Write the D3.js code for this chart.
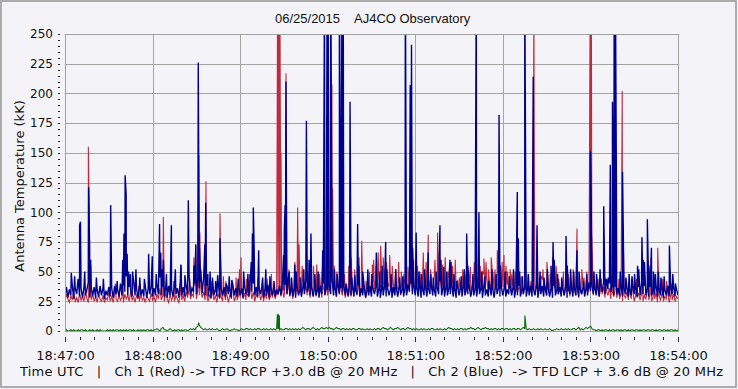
<!DOCTYPE html>
<html>
<head>
<meta charset="utf-8">
<script src="https://cdn.jsdelivr.net/npm/d3@7"></script>
<style>
html,body{margin:0;padding:0;background:#f4f4f8;}
svg{display:block;}
</style>
</head>
<body>
<svg id="chart" width="738" height="389"></svg>
<script>
// ---------------- DATA ----------------
const titleDate = "06/25/2015";
const titleName = "AJ4CO Observatory";
const yAxisTitle = "Antenna Temperature (kK)";
const footerText = "Time UTC   |   Ch 1 (Red) -> TFD RCP +3.0 dB @ 20 MHz   |   Ch 2 (Blue)  -> TFD LCP + 3.6 dB @ 20 MHz";
const xTickSeconds = [0, 60, 120, 180, 240, 300, 360, 420];
const xTickLabels = ["18:47:00", "18:48:00", "18:49:00", "18:50:00", "18:51:00", "18:52:00", "18:53:00", "18:54:00"];
const yTicks = [0, 25, 50, 75, 100, 125, 150, 175, 200, 225, 250];

// Ch 2 (Blue) background level, one value per second from 18:47:00
const blueBase = [
29,37,28,35,30,38,27,36,31,44,29,36,28,37,30,35,41,28,36,30,
37,28,35,29,38,30,36,27,34,30,37,29,36,28,38,31,35,29,40,30,
38,33,46,30,37,34,29,42,30,36,28,37,30,35,29,38,28,36,31,37,
29,36,30,39,31,45,30,37,29,36,28,38,30,35,29,37,31,36,28,42,
30,37,29,38,31,47,30,36,33,40,31,43,36,41,32,45,30,38,29,36,
28,37,30,35,29,41,28,36,30,37,29,38,31,35,28,39,30,36,29,37,
30,36,28,38,31,35,29,44,33,40,30,37,29,36,31,38,28,35,30,39,
28,36,30,37,29,35,31,38,30,42,34,39,31,45,30,37,29,36,28,38,
30,35,29,37,31,43,33,38,30,36,29,37,30,35,28,38,31,40,30,36,
34,38,31,44,30,37,29,39,31,36,33,38,30,36,29,41,30,37,29,35,
31,38,29,36,30,37,28,35,30,38,29,36,31,37,29,35,28,36,30,38,
29,36,30,35,28,37,30,36,29,38,31,35,29,37,30,39,33,40,31,37,
30,36,29,38,28,35,30,37,29,36,31,38,30,35,29,37,31,42,30,36,
29,37,30,36,31,38,29,35,28,37,30,36,29,38,30,35,31,37,29,36,
30,35,29,37,31,36,28,38,30,35,29,37,30,36,28,38,31,36,29,37,
30,36,29,35,31,38,30,37,28,36,30,38,29,35,31,37,29,36,30,38,
29,35,30,37,28,36,31,38,29,35,30,37,29,36,28,38,30,35,31,37,
29,36,30,38,28,35,31,37,29,36,30,38,29,35,31,37,29,36,30,41,
34,38,31,36,30,37,29,39,33,41,31,44,35,40,33,38,30,37,31,36,
30,38,29,36,31,37,29,35,30,38,31,36,29,37,30,40,31,38,30,36,
29,37,30,35,31,38,29,36,30,37,28,35,30,38,29,36,31,37,29,35,
30
];

// Ch 1 (Red) background level, one value per second from 18:47:00
const redBase = [
25,31,27,24,30,26,32,25,28,24,31,26,29,25,33,27,24,30,26,31,
25,29,24,31,27,25,30,24,28,26,32,25,29,24,31,27,25,30,26,28,
24,31,27,30,25,33,26,29,24,30,27,25,31,26,28,24,30,27,25,32,
26,29,24,31,27,36,26,30,25,32,27,24,31,26,29,25,30,27,24,31,
26,30,25,33,28,36,27,31,29,38,27,34,30,36,28,33,26,31,25,30,
27,33,26,30,24,31,27,29,25,32,26,30,24,31,27,35,25,29,26,31,
28,35,27,32,26,30,29,36,27,33,25,31,28,34,26,30,25,32,27,33,
26,31,28,34,27,32,30,37,29,35,28,40,31,36,29,34,27,33,30,38,
31,36,29,42,33,38,30,35,28,37,32,39,29,34,31,38,28,36,33,40,
30,37,34,41,31,36,29,38,32,35,30,39,28,36,31,34,29,37,33,38,
30,36,29,34,31,38,28,35,32,37,30,41,35,44,38,47,36,42,39,45,
34,41,37,44,33,39,31,38,35,42,30,37,34,40,31,38,36,43,33,39,
35,40,32,38,36,45,34,39,31,43,37,41,33,46,35,40,38,44,34,39,
36,42,33,45,37,40,32,38,35,43,31,37,34,41,32,39,36,44,33,38,
35,41,32,46,36,42,34,48,37,43,33,40,36,47,34,41,38,45,35,40,
37,44,33,39,35,42,31,38,34,40,32,37,35,43,31,38,34,41,32,37,
35,42,33,39,31,38,36,44,33,38,30,42,34,40,32,38,35,41,31,37,
32,38,30,36,33,40,29,35,32,38,30,36,28,35,31,39,30,36,32,37,
33,38,30,36,32,39,29,35,31,37,28,34,30,36,27,33,29,35,28,32,
27,32,25,30,28,33,26,31,27,34,25,30,28,32,26,31,25,30,27,33,
26,31,25,29,27,32,24,30,26,31,25,29,27,32,24,30,26,31,25,29,
27
];

// Difference trace (green), one value per second
const greenBase = [
0,1,0,0,1,0,1,0,0,1,0,1,1,0,1,0,0,1,0,1,
0,0,1,0,1,0,0,0,0,1,0,1,0,1,0,1,1,0,1,0,
1,0,1,0,1,1,0,1,0,0,1,0,1,0,1,0,1,1,0,1,
0,1,1,2,1,0,2,3,1,1,0,1,2,1,0,1,0,1,1,0,
1,0,1,1,0,1,2,1,2,1,3,4,5,3,2,1,2,1,1,2,
1,2,1,1,2,1,0,1,2,1,1,2,1,0,1,1,2,1,1,0,
1,2,1,1,2,2,1,2,1,1,2,1,2,2,1,1,2,1,2,1,
1,2,1,2,1,2,2,1,2,1,1,2,2,1,2,1,2,1,2,1,
2,1,2,3,2,1,2,2,1,2,3,2,1,2,1,2,3,2,2,3,
2,3,2,2,1,2,3,2,2,1,2,2,1,2,1,2,1,2,2,1,
1,2,2,1,2,1,1,2,1,2,1,1,2,1,2,2,1,2,3,2,
2,1,2,3,2,1,2,2,3,2,1,2,2,1,2,3,2,2,1,2,
1,2,1,1,2,1,2,1,1,2,1,2,2,1,1,2,1,2,1,1,
2,1,2,3,2,2,1,2,1,2,1,2,2,1,2,1,2,2,3,2,
2,1,2,3,2,1,2,2,3,2,2,1,2,1,2,2,1,2,1,2,
2,1,2,2,1,2,1,2,2,1,2,2,1,2,3,2,2,1,2,1,
1,2,1,1,2,1,2,1,1,2,1,1,2,1,0,1,1,2,1,1,
2,1,1,2,1,2,1,1,2,2,1,2,3,1,2,1,2,3,2,3,
4,2,1,1,0,1,1,0,1,0,1,1,0,1,0,1,1,0,1,1,
0,1,0,1,1,0,1,0,1,1,0,1,1,0,1,0,1,1,0,1,
1,0,1,1,0,1,0,1,1,0,1,1,0,1,0,1,1,0,1,0,
1
];

// Bursts: [seconds after 18:47:00, kK]
const blueBursts = [
[4.3,49],[6.6,46],[10.0,89],[10.6,92],[13.5,50],[16.2,121],[16.8,72],[17.6,60],[21.5,45],[26.3,44],
[31.3,106],[35.8,42],[39.6,60],[40.4,82],[41.2,131],[41.9,115],[42.6,65],[43.5,50],
[44.8,48],[46.3,50],[48.6,52],[51.2,45],[54.4,44],[57.3,65],[59.8,63],[62.5,48],[64.8,90],[65.6,66],
[66.4,52],[67.4,60],[69.5,48],[72.9,89],[75.6,52],[79.4,56],[82.1,47],[84.5,110],[88.3,55],[89.6,73],[91.3,226],
[92.1,70],[93.0,52],[95.8,73],[96.4,108],[97.9,48],[99.4,50],[101.0,45],[103.2,42],[104.6,47],
[106.2,78],[110.4,40],[112.5,46],[114.3,43],[118.7,44],[122.4,50],[125.3,48],[127.6,58],[128.4,82],[129.0,104],[129.6,70],
[132.7,68],[135.4,45],[137.6,52],[140.4,46],[143.2,42],[149.8,64],[150.3,87],[150.8,106],[151.4,210],
[153.6,50],[155.2,45],[157.4,56],[158.5,50],[161.3,45],[163.6,52],[165.4,177],[167.2,60],[168.5,82],[171.2,48],[173.5,50],[176.6,68],
[177.8,300],[179.6,300],[179.9,120],[180.2,300],[182.0,300],[184.6,52],[186.5,48],[188.0,300],
[189.8,300],[190.2,120],[190.6,300],[192.5,40],[195.3,193],[196.5,45],[198.6,47],[200.5,90],
[201.3,55],[204.0,50],[207.5,52],[210.3,48],[213.3,66],[215.6,50],[217.4,55],[219.7,75],[220.5,52],[223.5,48],[226.6,52],[229.2,45],[231.5,46],[233.2,300],
[236.5,207],[237.4,241],[238.2,70],[240.6,83],[242.5,50],[244.2,48],[246.3,52],[248.9,66],[250.6,48],[252.3,45],[254.4,50],
[256.9,89],[257.6,60],[259.5,54],[261.6,50],[263.8,60],[264.5,58],[266.4,48],[268.2,42],[271.5,46],[273.6,52],[275.2,82],[276.0,55],[279.5,48],
[281.8,300],[283.6,100],[285.4,50],[287.6,46],[290.3,42],[292.5,52],[295.4,48],[297.4,182],[298.2,55],[301.6,50],[304.5,46],[307.3,52],[309.9,117],[310.6,78],
[311.5,50],[313.4,46],[315.0,300],[317.5,48],[320.8,214],[323.4,89],[325.5,50],[328.2,45],[330.5,52],[333.0,55],[334.4,75],
[335.2,60],[337.5,48],[340.3,45],[343.3,80],[344.1,55],[346.4,52],[348.5,50],[350.8,68],[352.2,50],[355.3,42],[357.5,48],
[360.0,151],[360.5,113],[362.4,50],[364.2,48],[366.6,52],[369.1,105],[372.2,45],[373.6,140],[375.1,193],
[376.3,300],[376.7,150],[377.1,300],[377.8,125],[380.4,50],[382.0,134],[384.3,45],[386.5,48],[388.5,46],[390.2,48],
[392.3,55],[393.1,52],[395.3,79],[396.2,60],[397.0,58],[399.0,94],[400.0,55],[401.8,70],
[403.2,50],[404.5,48],[406.6,50],[408.3,45],[410.5,46],[414.1,72],[416.4,48],[418.2,40]
];

const redBursts = [
[16.0,155],[16.9,73],[17.6,55],[34.5,40],[39.9,45],[50.5,38],[67.4,96],[74.5,42],[79.7,55],[85.5,44],[88.3,62],[89.6,72],
[91.7,148],[92.4,83],[96.6,126],[100.2,42],[106.2,99],[108.5,46],[110.2,42],[114.1,40],
[117.2,45],[119.5,52],[120.6,62],[124.2,44],[126.4,48],[132.2,45],[135.2,42],[138.5,44],[141.4,48],
[145.7,300],[146.1,90],[146.4,300],[146.8,100],[147.2,300],[147.6,163],[148.0,150],[148.4,50],
[151.4,217],[153.4,52],[155.1,45],[157.5,58],[159.4,104],[160.4,73],[162.5,55],[163.2,50],[166.3,50],[168.5,62],[170.2,55],
[172.5,56],[174.4,48],[176.2,50],[182.0,300],[182.4,207],[182.9,207],[183.4,120],[184.5,55],[186.2,50],[188.6,50],[191.5,48],[194.4,55],[196.0,62],
[198.5,52],[201.5,62],[203.3,76],[206.2,42],[208.5,50],[210.6,56],[211.5,60],[213.0,55],[214.6,66],[216.3,72],[218.0,62],[220.3,58],[222.5,64],[224.2,55],
[226.5,52],[228.6,58],[230.4,50],[232.1,48],[235.0,54],[238.9,60],[241.5,55],[243.1,50],[245.5,66],[247.4,58],[248.9,81],[250.5,52],[253.5,60],[255.3,83],[256.5,68],
[258.6,56],[260.5,62],[262.5,50],[263.5,57],[265.6,55],[267.4,60],[270.2,45],[272.5,52],[274.6,48],[277.8,54],[280.4,58],[284.5,55],[286.0,50],[287.0,61],[288.5,58],
[290.1,52],[292.0,62],[293.2,50],[294.6,52],[296.2,68],[299.5,58],[300.8,64],[302.1,55],
[303.2,50],[305.0,52],[306.1,48],[308.5,50],[312.5,46],[317.4,48],[319.2,42],[321.2,300],[321.6,120],[323.9,50],[326.2,46],[327.5,52],[330.2,58],
[332.4,48],[334.0,62],[336.5,55],[338.2,44],[341.5,50],[344.8,48],[346.1,45],[348.2,52],[350.8,86],[352.5,48],[354.1,52],[355.6,45],[357.5,50],[359.6,217],
[359.9,300],[360.3,120],[360.6,300],[361.0,80],[362.5,46],[365.2,44],[367.5,44],[370.1,45],[374.5,46],[377.5,107],[379.5,44],
[381.8,202],[382.4,90],[386.2,42],[388.2,44],[391.5,44],[395.9,46],[399.5,60],[401.5,62],[403.5,42],[406.1,70],[409.5,44],[412.2,42],[415.5,40]
];

const greenBursts = [
[67.2,3],[91.6,7],[145.5,14],[145.9,2],[146.2,14],[146.6,2],[146.9,13],[315.1,13],[360.2,4]
];

// ---------------- CHART ----------------
const svg = d3.select("#chart");
const W = 738, H = 389;
const M = {left: 65, right: 678, top: 34, bottom: 331};

const x = d3.scaleLinear().domain([0, 420]).range([M.left, M.right]);
const y = d3.scaleLinear().domain([0, 250]).range([M.bottom, M.top]);

svg.append("rect").attr("x", 0).attr("y", 0).attr("width", W).attr("height", H).attr("fill", "#f4f4f8");
svg.append("rect").attr("x", 1).attr("y", 1).attr("width", 735).attr("height", 386)
  .attr("fill", "none").attr("stroke", "#9a9a9a").attr("stroke-width", 1.6);

// Title
svg.append("text").attr("x", 275).attr("y", 22.5).text(titleDate)
  .attr("font-family", "Liberation Sans, Arial, sans-serif").attr("font-size", 13).attr("fill", "#111");
svg.append("text").attr("x", 354).attr("y", 22.5).text(titleName)
  .attr("font-family", "Liberation Sans, Arial, sans-serif").attr("font-size", 13).attr("fill", "#111");

// Grid
const grid = svg.append("g").attr("stroke", "#a4a4a4").attr("stroke-width", 1).attr("shape-rendering", "crispEdges");
grid.selectAll("line.h").data(yTicks).join("line").attr("class", "h")
  .attr("x1", M.left).attr("x2", M.right).attr("y1", d => Math.round(y(d)) + 0.5).attr("y2", d => Math.round(y(d)) + 0.5);
grid.selectAll("line.v").data(xTickSeconds).join("line").attr("class", "v")
  .attr("y1", M.top).attr("y2", M.bottom).attr("x1", d => Math.round(x(d)) + 0.5).attr("x2", d => Math.round(x(d)) + 0.5);

// Clip
svg.append("defs").append("clipPath").attr("id", "plotclip").append("rect")
  .attr("x", M.left).attr("y", M.top).attr("width", M.right - M.left).attr("height", M.bottom - M.top);

function buildSeries(base, bursts) {
  const pts = base.map((v, i) => ({t: i, v: v}));
  bursts.forEach(b => pts.push({t: b[0], v: b[1]}));
  pts.sort((a, b) => a.t - b.t);
  return pts;
}
const line = d3.line().x(d => x(d.t)).y(d => y(d.v));
const plot = svg.append("g").attr("clip-path", "url(#plotclip)");

plot.append("path").datum(buildSeries(redBase, redBursts))
  .attr("d", line).attr("fill", "none").attr("stroke", "#bf2a3e").attr("stroke-width", 1.1);
plot.append("path").datum(buildSeries(blueBase, blueBursts))
  .attr("d", line).attr("fill", "none").attr("stroke", "#00008e").attr("stroke-width", 1.4);
plot.append("path").datum(buildSeries(greenBase, greenBursts))
  .attr("d", line).attr("fill", "none").attr("stroke", "#0c6a0c").attr("stroke-width", 1.1);

// Plot frame (over series)
svg.append("rect").attr("x", M.left + 0.5).attr("y", M.top + 0.5)
  .attr("width", M.right - M.left).attr("height", M.bottom - M.top)
  .attr("fill", "none").attr("stroke", "#a0a0a0").attr("shape-rendering", "crispEdges");

const fontMain = "DejaVu Sans, Verdana, sans-serif";

// Y axis labels
const yAx = svg.append("g").attr("transform", `translate(${M.left},0)`)
  .call(d3.axisLeft(y).tickValues(yTicks).tickSize(0).tickPadding(12));
yAx.select(".domain").remove();
yAx.selectAll("text").attr("font-family", fontMain).attr("font-size", 12).attr("fill", "#111");

// Y minor ticks
const yMinor = svg.append("g").attr("transform", `translate(60,0)`)
  .call(d3.axisLeft(y).tickValues(d3.range(0, 251, 5)).tickSize(2).tickFormat(""));
yMinor.select(".domain").remove();
yMinor.selectAll("line").attr("stroke", "#222").attr("shape-rendering", "crispEdges");

// X minor ticks
const xMinor = svg.append("g").attr("transform", `translate(0,337)`)
  .call(d3.axisBottom(x).tickValues(d3.range(0, 421, 10)).tickSize(3).tickFormat(""));
xMinor.select(".domain").remove();
xMinor.selectAll("line").attr("stroke", "#223").attr("shape-rendering", "crispEdges");

// X major ticks + labels
const xAx = svg.append("g").attr("transform", `translate(0,337)`)
  .call(d3.axisBottom(x).tickValues(xTickSeconds).tickSize(5).tickPadding(9)
    .tickFormat((d, i) => xTickLabels[i]));
xAx.select(".domain").remove();
xAx.selectAll("line").attr("stroke", "#1a2a6a").attr("shape-rendering", "crispEdges");
xAx.selectAll("text").attr("font-family", fontMain).attr("font-size", 13).attr("fill", "#111");

// Footer
svg.append("text").attr("x", 20).attr("y", 376).text(footerText)
  .attr("xml:space", "preserve").style("white-space", "pre")
  .attr("textLength", 703).attr("lengthAdjust", "spacing")
  .attr("font-family", fontMain).attr("font-size", 13).attr("fill", "#111");

// Y axis title
svg.append("text").attr("transform", "translate(24,186) rotate(-90)")
  .attr("text-anchor", "middle").text(yAxisTitle)
  .attr("font-family", fontMain).attr("font-size", 13).attr("fill", "#111");
</script>
</body>
</html>
